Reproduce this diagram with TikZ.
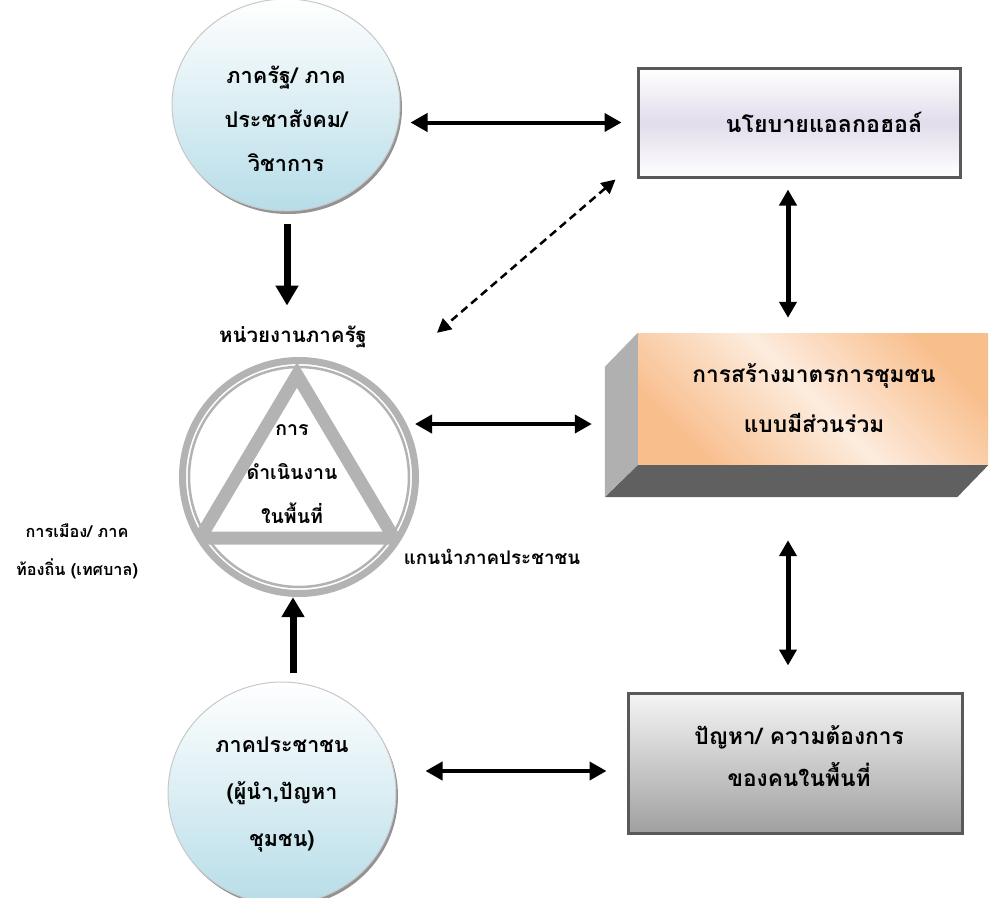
\documentclass[tikz,border=0pt]{standalone}
\usepackage{fontspec}
\newfontfamily\thai[Script=Thai]{Loma}
\usetikzlibrary{arrows.meta,shapes.geometric,calc,shadows}
\definecolor{lblue}{RGB}{183,221,232}
\definecolor{cborder}{RGB}{200,200,200}
\definecolor{bframe}{RGB}{89,89,89}
\definecolor{lav}{RGB}{226,220,235}
\definecolor{peach}{RGB}{248,190,140}
\definecolor{plight}{RGB}{253,236,222}
\definecolor{sidegray}{RGB}{176,176,176}
\definecolor{botgray}{RGB}{96,96,96}
\definecolor{ringgray}{RGB}{179,179,179}
\definecolor{b3bot}{RGB}{160,160,160}
\definecolor{b3top}{RGB}{245,245,245}
\tikzset{
  th/.style={align=center, inner sep=0pt},
  lsp/.style 2 args={font=\thai\bfseries\fontsize{#1}{#2}\selectfont},
  circ/.style={ellipse, draw=cborder, line width=1pt, top color=white, bottom color=lblue,
    inner sep=0pt, drop shadow={shadow xshift=2pt, shadow yshift=-3pt, fill=gray!85, opacity=1}},
  frame/.style={draw=bframe, line width=3pt, inner sep=0pt},
  dblh/.style={line width=4pt, {Triangle[length=17pt,width=18pt]}-{Triangle[length=17pt,width=18pt]}},
  dblv/.style={line width=5pt, {Triangle[length=16pt,width=17pt]}-{Triangle[length=16pt,width=17pt]}},
  bigarrow/.style={line width=7pt, -{Triangle[length=20pt,width=22pt]}},
  dasharrow/.style={line width=2.5pt, dash pattern=on 8pt off 5pt, {Triangle[length=14pt,width=14pt]}-{Triangle[length=14pt,width=14pt]}},
}
\begin{document}
\begin{tikzpicture}[x=1pt,y=-1pt]
\useasboundingbox (0,0) rectangle (996,897);

% top circle
\node[circ, minimum width=228pt, minimum height=212pt] (tc) at (286,105) {};
\node[th, lsp={21.7}{44}] (tct) at (286,119) {ภาครัฐ/ ภาค\\ประชาสังคม/\\วิชาการ};

% bottom circle
\node[circ, minimum width=228pt, minimum height=222pt] (bc) at (282,793) {};
\node[th, lsp={21.5}{47}] (bct) at (282,795) {ภาคประชาชน\\(ผู้นำ,ปัญหา\\ชุมชน)};

% policy box
\node[frame, minimum width=322pt, minimum height=109pt, top color=white, bottom color=white, middle color=lav] (b1) at (799,122.5) {};
\node[th, lsp={23.2}{44}] (b1t) at (824,122) {นโยบายแอลกอฮอล์};

% orange 3D box
\node[inner sep=0pt, minimum width=350pt, minimum height=132pt, top color=peach, bottom color=peach, middle color=plight, shading angle=-45] (ob) at (813,399) {};
\fill[sidegray] (ob.north west) -- ++(-33,34) -- ++(0,130) -- (ob.south west) -- cycle;
\fill[botgray] (ob.south west) -- (ob.south east) -- ++(-31,32) -- ($(ob.south west)+(-33,32)$) -- cycle;
\node[th, lsp={22.7}{50}] (obt) at (814,398) {การสร้างมาตรการชุมชน\\แบบมีส่วนร่วม};

% problem box
\node[frame, minimum width=334pt, minimum height=140pt, top color=b3top, bottom color=b3bot] (b3) at (795,763) {};
\node[th, lsp={22.7}{42}] (b3t) at (799,756) {ปัญหา/ ความต้องการ\\ของคนในพื้นที่};

% triangle circle
\node[circle, minimum size=240pt, inner sep=0pt] (tr) at (299,477) {};
\draw[ringgray, line width=7pt] (tr.center) circle[radius=116.5];
\draw[ringgray, line width=2.5pt] (tr.center) circle[radius=110];
\begin{scope}
  \clip (tr.center) circle[radius=119];
  \draw[ringgray, line width=13pt, line join=miter] (297,375) -- (200,538) -- (394,538) -- cycle;
\end{scope}
\node[th, lsp={19.5}{44}] (trt) at (292,474) {การ\\ดำเนินงาน\\ในพื้นที่};

% labels
\node[th, lsp={20.5}{44}] (hn) at (293,337) {หน่วยงานภาครัฐ};
\node[th, lsp={16.3}{38}] (km) at (77,551) {การเมือง/ ภาค\\ท้องถิ่น (เทศบาล)};
\node[th, lsp={18.8}{44}] (kn) at (492,557) {แกนนำภาคประชาชน};

% connectors
\draw[dblh, shorten <=10pt, shorten >=15pt] (tc.east |- b1.west) -- (b1.west);
\draw[dblh] ($(tr.center)+(116,-53)$) -- ($(ob.west)+(-46,25)$);
\draw[dblh] ($(bc.east)+(29,-22)$) -- ($(b3.west)+(-20,8)$);
\draw[dblv] ($(b1.south)+(-11,11)$) -- ($(ob.north)+(-25,-15)$);
\draw[dblv] ($(ob.south)+(-25,75)$) -- ($(b3.north)+(-7,-26)$);
\draw[bigarrow] ($(tc.south)+(1,12)$) -- ($(tc.south)+(1,94)$);
\draw[bigarrow] ($(bc.north)+(11,-9)$) -- ($(tr.south)+(-6,0)$);
\draw[dasharrow] ($(b1.south west)+(-21,1)$) -- ($(tr.north)+(138,-24)$);
\end{tikzpicture}
\end{document}
